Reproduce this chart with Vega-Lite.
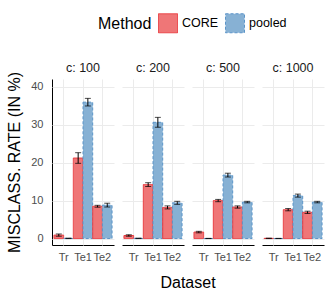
{
  "$schema": "https://vega.github.io/schema/vega-lite/v6.json",
  "padding": {"left": 6, "top": 13, "right": 5, "bottom": 4},
  "background": "white",
  "data": {"values": [
    {"c": 100, "Dataset": "Tr", "Method": "CORE", "rate": 0.9, "lo": 0.6, "hi": 1.2},
    {"c": 100, "Dataset": "Tr", "Method": "pooled", "rate": 0.05, "lo": 0.0, "hi": 0.1},
    {"c": 100, "Dataset": "Te1", "Method": "CORE", "rate": 21.2, "lo": 19.8, "hi": 22.6},
    {"c": 100, "Dataset": "Te1", "Method": "pooled", "rate": 35.9, "lo": 34.9, "hi": 36.9},
    {"c": 100, "Dataset": "Te2", "Method": "CORE", "rate": 8.5, "lo": 8.25, "hi": 8.75},
    {"c": 100, "Dataset": "Te2", "Method": "pooled", "rate": 8.8, "lo": 8.3, "hi": 9.3},
    {"c": 200, "Dataset": "Tr", "Method": "CORE", "rate": 0.8, "lo": 0.6, "hi": 1.0},
    {"c": 200, "Dataset": "Tr", "Method": "pooled", "rate": 0.05, "lo": 0.0, "hi": 0.1},
    {"c": 200, "Dataset": "Te1", "Method": "CORE", "rate": 14.2, "lo": 13.7, "hi": 14.7},
    {"c": 200, "Dataset": "Te1", "Method": "pooled", "rate": 30.6, "lo": 29.3, "hi": 31.9},
    {"c": 200, "Dataset": "Te2", "Method": "CORE", "rate": 8.2, "lo": 7.8, "hi": 8.6},
    {"c": 200, "Dataset": "Te2", "Method": "pooled", "rate": 9.4, "lo": 9.0, "hi": 9.8},
    {"c": 500, "Dataset": "Tr", "Method": "CORE", "rate": 1.7, "lo": 1.5, "hi": 1.9},
    {"c": 500, "Dataset": "Tr", "Method": "pooled", "rate": 0.0, "lo": 0.0, "hi": 0.05},
    {"c": 500, "Dataset": "Te1", "Method": "CORE", "rate": 10.0, "lo": 9.7, "hi": 10.3},
    {"c": 500, "Dataset": "Te1", "Method": "pooled", "rate": 16.7, "lo": 16.2, "hi": 17.2},
    {"c": 500, "Dataset": "Te2", "Method": "CORE", "rate": 8.3, "lo": 8.0, "hi": 8.6},
    {"c": 500, "Dataset": "Te2", "Method": "pooled", "rate": 9.6, "lo": 9.4, "hi": 9.8},
    {"c": 1000, "Dataset": "Tr", "Method": "CORE", "rate": 0.05, "lo": 0.0, "hi": 0.1},
    {"c": 1000, "Dataset": "Tr", "Method": "pooled", "rate": 0.0, "lo": 0.0, "hi": 0.05},
    {"c": 1000, "Dataset": "Te1", "Method": "CORE", "rate": 7.6, "lo": 7.3, "hi": 7.9},
    {"c": 1000, "Dataset": "Te1", "Method": "pooled", "rate": 11.3, "lo": 10.9, "hi": 11.7},
    {"c": 1000, "Dataset": "Te2", "Method": "CORE", "rate": 6.9, "lo": 6.6, "hi": 7.2},
    {"c": 1000, "Dataset": "Te2", "Method": "pooled", "rate": 9.6, "lo": 9.4, "hi": 9.8}
  ]},
  "facet": {
    "column": {
      "field": "c", "type": "ordinal", "sort": [100, 200, 500, 1000],
      "header": {
        "title": "Dataset", "titleOrient": "bottom", "labelOrient": "top",
        "labelExpr": "'c: ' + datum.value",
        "labelFont": "Liberation Sans", "labelFontSize": 12.5, "labelColor": "#1a1a1a", "labelPadding": 5,
        "titleFont": "Liberation Sans", "titleFontSize": 16, "titleFontWeight": "normal", "titleColor": "black", "titlePadding": 3
      }
    }
  },
  "spacing": 8,
  "spec": {
    "width": 62,
    "height": 166,
    "encoding": {
      "x": {
        "field": "Dataset", "type": "nominal", "sort": ["Tr", "Te1", "Te2"],
        "scale": {"paddingInner": 0, "paddingOuter": 0.1},
        "axis": {
          "title": null, "bandPosition": 0.5, "ticks": false, "grid": true,
          "gridColor": "#ebebeb", "gridWidth": 1,
          "domainColor": "black", "domainWidth": 1,
          "labelAngle": 0, "labelFont": "Liberation Sans", "labelFontSize": 11, "labelColor": "#4d4d4d", "labelPadding": 6
        }
      },
      "xOffset": {"field": "Method", "type": "nominal", "sort": ["CORE", "pooled"], "scale": {"paddingInner": 0}}
    },
    "layer": [
      {
        "mark": {"type": "bar", "strokeWidth": 1},
        "encoding": {
          "y": {
            "field": "rate", "type": "quantitative",
            "scale": {"domain": [-1.7, 42], "nice": false, "zero": false},
            "axis": {
              "title": "MISCLASS. RATE (IN %)", "values": [0, 5, 10, 15, 20, 25, 30, 35, 40],
              "labelExpr": "datum.value % 10 === 0 ? datum.label : ''",
              "ticks": false, "domainColor": "black", "domainWidth": 1,
              "gridColor": {"condition": {"test": "datum.value % 10 === 0", "value": "#ebebeb"}, "value": "#f4f4f4"},
              "gridWidth": 1,
              "labelFont": "Liberation Sans", "labelFontSize": 11, "labelColor": "#4d4d4d", "labelPadding": 9,
              "titleFont": "Liberation Sans", "titleFontSize": 16, "titleFontWeight": "normal", "titleColor": "black", "titlePadding": 8
            }
          },
          "fill": {
            "field": "Method", "type": "nominal", "title": "Method",
            "scale": {"domain": ["CORE", "pooled"], "range": ["#EF7677", "#87B1D4"]}
          },
          "stroke": {
            "field": "Method", "type": "nominal", "title": "Method",
            "scale": {"domain": ["CORE", "pooled"], "range": ["#E8383D", "#5C95C8"]}
          },
          "strokeDash": {
            "field": "Method", "type": "nominal", "title": "Method",
            "scale": {"domain": ["CORE", "pooled"], "range": [[1, 0], [3, 2]]}
          }
        }
      },
      {
        "mark": {"type": "rule", "color": "black", "strokeWidth": 1},
        "encoding": {"y": {"field": "lo", "type": "quantitative"}, "y2": {"field": "hi"}}
      },
      {
        "mark": {"type": "tick", "orient": "horizontal", "size": 6, "thickness": 1, "color": "black"},
        "encoding": {"y": {"field": "lo", "type": "quantitative"}}
      },
      {
        "mark": {"type": "tick", "orient": "horizontal", "size": 6, "thickness": 1, "color": "black"},
        "encoding": {"y": {"field": "hi", "type": "quantitative"}}
      }
    ]
  },
  "config": {
    "view": {"stroke": null},
    "legend": {
      "orient": "none", "legendX": 46, "legendY": -66, "direction": "horizontal",
      "titleOrient": "left", "titleFont": "Liberation Sans", "titleFontSize": 16, "titleFontWeight": "normal", "titleColor": "black", "titlePadding": 6,
      "labelFont": "Liberation Sans", "labelFontSize": 12.5, "labelColor": "black", "labelOffset": 4,
      "symbolType": "square", "symbolSize": 361, "symbolStrokeWidth": 1, "symbolOpacity": 1, "columnPadding": 4
    }
  }
}
